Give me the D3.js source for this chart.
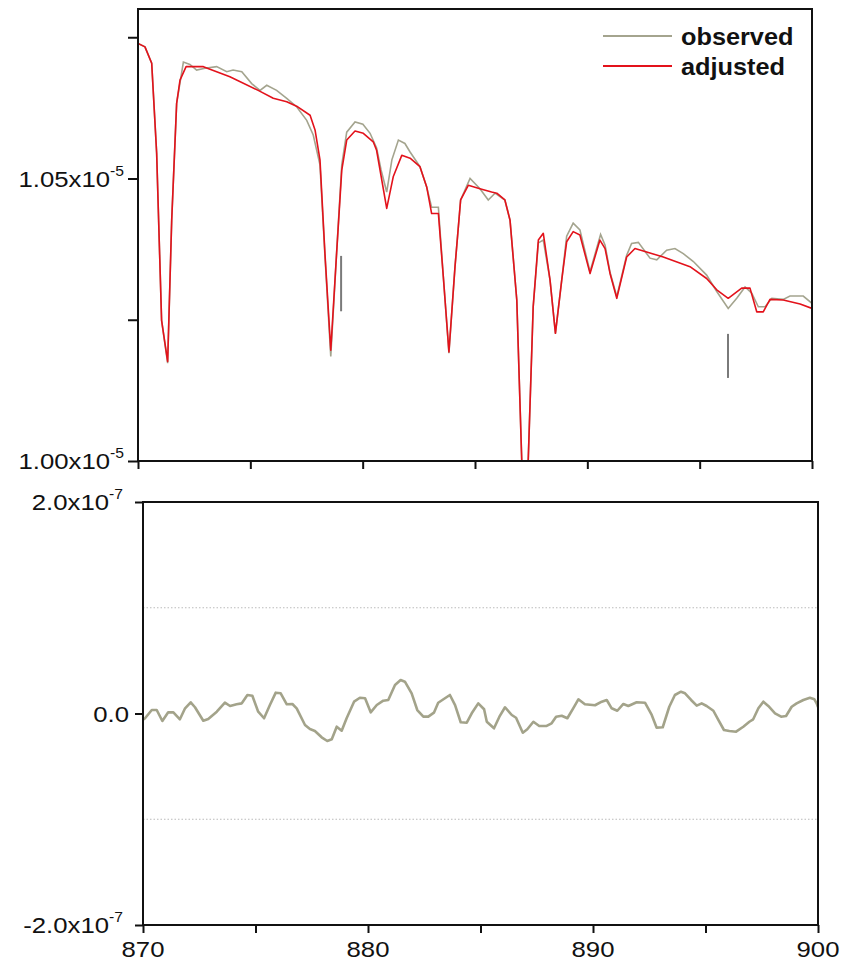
<!DOCTYPE html>
<html><head><meta charset="utf-8">
<script src="https://cdn.jsdelivr.net/npm/d3@7/dist/d3.min.js"></script>
<style>html,body{margin:0;padding:0;background:#fff;}svg{display:block;}</style>
</head><body>
<svg id="c" width="849" height="963"></svg>
<script>
// ---- Data (top panel values in units of 1e-5, residuals in units of 1e-7) ----
const obsWl = [870.00,870.31,870.61,870.83,871.05,871.32,871.50,871.72,872.02,872.31,872.61,872.98,873.50,873.95,874.23,874.62,875.06,875.43,875.73,876.17,876.62,877.06,877.51,877.80,878.10,878.32,878.58,878.84,879.07,879.29,879.66,880.01,880.33,880.62,880.82,881.07,881.30,881.59,881.88,882.11,882.55,882.85,883.07,883.37,883.59,883.84,884.11,884.36,884.78,885.22,885.59,885.89,886.33,886.56,886.86,887.08,887.22,887.37,887.59,887.82,888.04,888.34,888.58,888.86,889.08,889.37,889.67,890.12,890.59,890.79,891.01,891.31,891.75,891.97,892.27,892.79,893.09,893.53,893.90,894.27,894.72,895.31,895.76,896.27,896.65,897.02,897.32,897.61,897.91,898.21,898.72,899.02,899.61,900.00];
const observed = [1.0739,1.0733,1.0704,1.0545,1.0249,1.0173,1.0426,1.0633,1.0706,1.0702,1.0692,1.0695,1.0698,1.0689,1.0692,1.0689,1.0668,1.0656,1.0665,1.0656,1.0642,1.0627,1.0603,1.0577,1.0524,1.0364,1.0185,1.0368,1.0524,1.0582,1.0600,1.0596,1.0580,1.0554,1.0515,1.0476,1.0533,1.0568,1.0562,1.0547,1.0521,1.0485,1.0449,1.0449,1.0326,1.0191,1.0344,1.0462,1.0500,1.0482,1.0462,1.0474,1.0462,1.0426,1.0285,1.0002,0.9960,1.0002,1.0273,1.0386,1.0391,1.0320,1.0226,1.0320,1.0398,1.0421,1.0409,1.0335,1.0401,1.0382,1.0334,1.0291,1.0364,1.0385,1.0387,1.0359,1.0356,1.0373,1.0376,1.0367,1.0353,1.0329,1.0300,1.0270,1.0288,1.0308,1.0297,1.0273,1.0273,1.0288,1.0286,1.0292,1.0292,1.0279];

const adjWl = [870.00,870.31,870.61,870.83,871.05,871.32,871.50,871.72,871.87,872.14,872.91,874.09,875.35,876.02,876.62,877.06,877.66,877.88,878.10,878.32,878.58,878.84,879.07,879.29,879.66,880.03,880.47,880.62,881.07,881.36,881.74,882.11,882.55,882.85,883.07,883.37,883.59,883.84,884.11,884.36,884.70,885.22,885.74,885.97,886.33,886.56,886.86,887.08,887.22,887.37,887.59,887.82,888.04,888.34,888.58,888.86,889.08,889.37,889.67,890.12,890.56,890.79,891.01,891.31,891.75,892.12,892.64,893.38,894.57,895.31,895.76,896.27,896.87,897.24,897.54,897.83,898.13,898.72,899.47,900.00];
const adjusted = [1.0739,1.0733,1.0704,1.0545,1.0249,1.0176,1.0426,1.0633,1.0674,1.0698,1.0698,1.0680,1.0656,1.0642,1.0636,1.0628,1.0612,1.0586,1.0533,1.0368,1.0196,1.0368,1.0515,1.0568,1.0584,1.0580,1.0565,1.0550,1.0447,1.0503,1.0541,1.0536,1.0521,1.0485,1.0438,1.0438,1.0326,1.0193,1.0344,1.0462,1.0488,1.0482,1.0476,1.0474,1.0462,1.0426,1.0285,1.0002,0.9960,1.0002,1.0273,1.0391,1.0403,1.0320,1.0226,1.0320,1.0388,1.0406,1.0400,1.0332,1.0391,1.0376,1.0332,1.0288,1.0361,1.0376,1.0370,1.0361,1.0344,1.0323,1.0303,1.0288,1.0306,1.0306,1.0264,1.0264,1.0286,1.0285,1.0278,1.0270];

// vertical line markers: wavelength, lower and upper value (units 1e-5)
const markerWl = [879.04, 896.26];
const markerLo = [1.0265, 1.0147];
const markerHi = [1.0363, 1.0225];

const resWl = [870.00,870.09,870.39,870.61,870.86,871.12,871.35,871.64,871.87,872.12,872.31,872.68,872.90,873.28,873.64,873.87,874.16,874.39,874.64,874.86,875.12,875.38,875.64,875.90,876.12,876.39,876.64,876.83,877.20,877.42,877.64,877.94,878.19,878.39,878.61,878.83,879.05,879.38,879.64,879.87,880.12,880.39,880.68,880.90,881.20,881.45,881.64,881.94,882.19,882.46,882.68,882.93,883.12,883.42,883.64,883.87,884.12,884.39,884.61,884.90,885.16,885.28,885.60,885.84,886.09,886.39,886.58,886.88,887.08,887.35,887.61,887.94,888.16,888.36,888.61,888.86,889.12,889.35,889.64,890.09,890.39,890.61,890.83,891.08,891.35,891.57,891.94,892.31,892.61,892.83,893.10,893.39,893.64,893.91,894.09,894.36,894.61,894.83,895.05,895.35,895.57,895.82,896.06,896.36,896.68,896.95,897.12,897.35,897.57,897.79,898.09,898.36,898.58,898.83,899.05,899.35,899.64,899.84,899.94,900.00];
const residual = [-0.06,-0.045,0.033,0.033,-0.071,0.011,0.011,-0.055,0.049,0.106,0.059,-0.068,-0.052,0.017,0.102,0.071,0.087,0.096,0.175,0.168,0.017,-0.045,0.080,0.197,0.191,0.087,0.090,0.049,-0.109,-0.147,-0.165,-0.225,-0.260,-0.244,-0.125,-0.163,-0.045,0.112,0.149,0.144,0.011,0.080,0.121,0.128,0.270,0.317,0.301,0.191,0.033,-0.030,-0.030,0.008,0.102,0.144,0.175,0.080,-0.083,-0.087,0.002,0.096,0.040,-0.078,-0.140,-0.030,0.059,-0.014,-0.040,-0.182,-0.149,-0.078,-0.118,-0.118,-0.093,-0.030,-0.021,-0.045,0.049,0.134,0.087,0.078,0.112,0.128,0.049,0.026,0.090,0.071,0.106,0.102,-0.014,-0.134,-0.130,0.064,0.175,0.206,0.191,0.128,0.074,0.096,0.071,0.026,-0.061,-0.156,-0.165,-0.172,-0.125,-0.078,-0.055,0.049,0.112,0.071,0.002,-0.030,-0.024,0.064,0.096,0.128,0.149,0.134,0.096,0.06];

const topTicksY = [1.00, 1.025, 1.05, 1.075];
const topLabelsY = [1.00, 1.05];
const botTicksY = [-2, 0, 2];
const gridY = [-1, 1];
const xTicks = [870, 875, 880, 885, 890, 895, 900];
const xLabels = [870, 880, 890, 900];
const legendNames = ["observed", "adjusted"];

const cObs = "#a4a48e", cAdj = "#e3121b", cRes = "#a3a38a";
const FONT = "'Liberation Sans', Arial, sans-serif";
const SX = 1.12; // horizontal stretch of text seen in the reference

const svg = d3.select("#c");

// ---------- Top panel ----------
const T = {l:138, r:812, t:9, b:461};
const xT = d3.scaleLinear().domain([870, 900]).range([T.l, T.r]);
const yT = d3.scaleLinear().domain([1.00, 1.08]).range([T.b, T.t]);

svg.append("clipPath").attr("id","clipT").append("rect")
  .attr("x",T.l).attr("y",T.t).attr("width",T.r-T.l).attr("height",T.b-T.t);

const gT = svg.append("g");
const lineT = d3.line().x(d=>xT(d[0])).y(d=>yT(d[1]));
gT.append("path").datum(obsWl.map((w,i)=>[w,observed[i]]))
  .attr("d",lineT).attr("fill","none").attr("stroke",cObs).attr("stroke-width",1.6)
  .attr("clip-path","url(#clipT)");
gT.append("path").datum(adjWl.map((w,i)=>[w,adjusted[i]]))
  .attr("d",lineT).attr("fill","none").attr("stroke",cAdj).attr("stroke-width",1.6)
  .attr("stroke-linejoin","round").attr("clip-path","url(#clipT)");

markerWl.forEach((w,i)=>{
  gT.append("line").attr("x1",xT(w)).attr("x2",xT(w))
    .attr("y1",yT(markerLo[i])).attr("y2",yT(markerHi[i]))
    .attr("stroke","#7a7a7a").attr("stroke-width",2);
});

// frame
gT.append("rect").attr("x",T.l).attr("y",T.t).attr("width",T.r-T.l).attr("height",T.b-T.t)
  .attr("fill","none").attr("stroke","#111").attr("stroke-width",2);
// axes
const axBT = d3.axisBottom(xT).tickValues(xTicks).tickSize(8).tickFormat("");
gT.append("g").attr("transform",`translate(0,${T.b})`).call(axBT)
  .call(g=>{g.select(".domain").remove(); g.selectAll("line").attr("stroke","#111").attr("stroke-width",2);});
const axLT = d3.axisLeft(yT).tickValues(topTicksY).tickSize(10).tickFormat("");
gT.append("g").attr("transform",`translate(${T.l},0)`).call(axLT)
  .call(g=>{g.select(".domain").remove(); g.selectAll("line").attr("stroke","#111").attr("stroke-width",2);});

function sciLabel(g, x, y, mant, exp){
  const t = g.append("text").attr("transform",`translate(${x},${y}) scale(${SX},1)`)
    .attr("text-anchor","end")
    .attr("font-family",FONT).attr("font-size",23).attr("fill","#111");
  t.append("tspan").text(mant);
  if (exp !== null){
    t.append("tspan").text("x10");
    t.append("tspan").attr("font-size",14).attr("dy",-11).text(exp);
  }
  return t;
}
topLabelsY.forEach(v=>{
  sciLabel(gT, T.l-14, yT(v)+8, v.toFixed(2), "-5");
});

// legend
legendNames.forEach((n,i)=>{
  const y = 36 + i*30;
  gT.append("line").attr("x1",603).attr("x2",672).attr("y1",y).attr("y2",y)
    .attr("stroke", i===0?cObs:cAdj).attr("stroke-width",1.8);
  gT.append("text").attr("transform",`translate(681,${y+9}) scale(1.1,1)`)
    .attr("font-family",FONT)
    .attr("font-weight","bold").attr("font-size",23).attr("fill","#111").text(n);
});

// ---------- Bottom panel ----------
const B = {l:143, r:818, t:502, b:925};
const xB = d3.scaleLinear().domain([870, 900]).range([B.l, B.r]);
const yB = d3.scaleLinear().domain([-2, 2]).range([B.b, B.t]);
const gB = svg.append("g");

gridY.forEach(v=>{
  gB.append("line").attr("x1",B.l).attr("x2",B.r).attr("y1",yB(v)).attr("y2",yB(v))
    .attr("stroke","#bbb").attr("stroke-width",1).attr("stroke-dasharray","1.5,2");
});

svg.append("clipPath").attr("id","clipB").append("rect")
  .attr("x",B.l).attr("y",B.t).attr("width",B.r-B.l).attr("height",B.b-B.t);
const lineB = d3.line().x(d=>xB(d[0])).y(d=>yB(d[1]));
gB.append("path").datum(resWl.map((w,i)=>[w,residual[i]]))
  .attr("d",lineB).attr("fill","none").attr("stroke",cRes).attr("stroke-width",2.6)
  .attr("stroke-linejoin","round").attr("clip-path","url(#clipB)");

gB.append("rect").attr("x",B.l).attr("y",B.t).attr("width",B.r-B.l).attr("height",B.b-B.t)
  .attr("fill","none").attr("stroke","#111").attr("stroke-width",2);

const axBB = d3.axisBottom(xB).tickValues(xTicks).tickSize(8).tickFormat("");
gB.append("g").attr("transform",`translate(0,${B.b})`).call(axBB)
  .call(g=>{g.select(".domain").remove(); g.selectAll("line").attr("stroke","#111").attr("stroke-width",2);});
xLabels.forEach(v=>{
  gB.append("text").attr("transform",`translate(${xB(v)},957) scale(${SX},1)`)
    .attr("text-anchor","middle")
    .attr("font-family",FONT).attr("font-size",23).attr("fill","#111").text(v);
});
const axLB = d3.axisLeft(yB).tickValues(botTicksY).tickSize(8).tickFormat("");
gB.append("g").attr("transform",`translate(${B.l},0)`).call(axLB)
  .call(g=>{g.select(".domain").remove(); g.selectAll("line").attr("stroke","#111").attr("stroke-width",2);});
botTicksY.forEach(v=>{
  if (v===0) sciLabel(gB, B.l-14, yB(v)+8, "0.0", null);
  else sciLabel(gB, B.l-20, yB(v)+8, v.toFixed(1), "-7");
});
</script>
</body></html>
